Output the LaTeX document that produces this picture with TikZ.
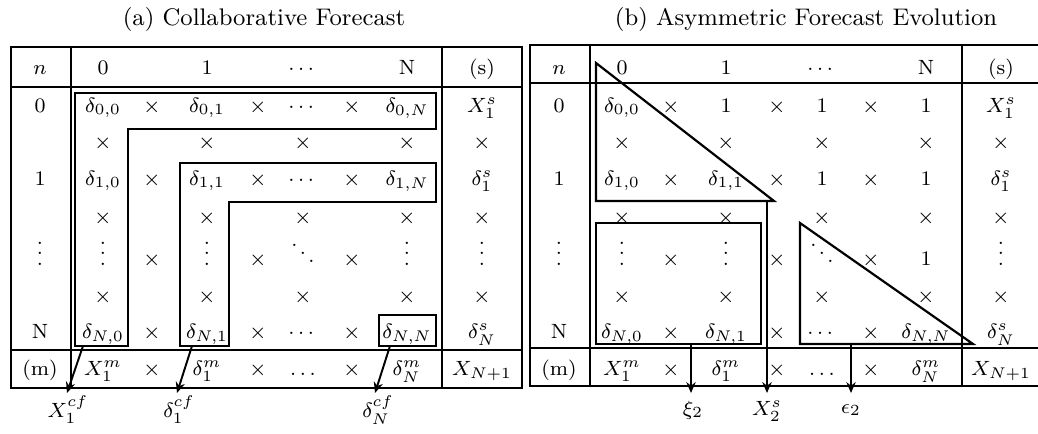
\documentclass[tikz,border=0pt]{standalone}
\usepackage{amsmath,amssymb}
\usepackage{tikz}
\usetikzlibrary{arrows.meta}

% column centres of the left table; the right one is shifted
\def\colxs{40,103,152,207,258,303,352,407,482}
\def\skipcell{-}
\newcommand{\tabrow}[5]{%
  \foreach \e [count=\i from 0] in {#5} {%
    \ifx\e\skipcell\else
      \pgfmathsetmacro\cx{#2+{\colxs}[\i]}%
      \node[cell] (#1-#3-\i) at (\cx,#4) {\e};
    \fi}}

\begin{document}
\begin{tikzpicture}[
  x=0.3875pt,y=-0.3875pt,
  cell/.style={anchor=base,inner sep=0pt,font=\footnotesize},
  title/.style={anchor=base,inner sep=0pt,font=\fontsize{9.3}{11}\selectfont},
  rulel/.style={line width=0.4pt},
  box/.style={line width=0.85pt,line join=miter},
  arr/.style={-{Stealth[length=4.2pt,width=3.6pt]},line width=0.75pt}
]
\useasboundingbox (0,0) rectangle (1038,433);

% titles
\node[title] (ta) at (264,25) {(a) Collaborative Forecast};
\node[title] (tb) at (806,25) {(b) Asymmetric Forecast Evolution};

% frame of table (a)
\draw[rulel] (11,47) rectangle (522,388);
\draw[rulel] (11,87) -- (522,87) (11,350) -- (522,350)
  (71,47) -- (71,388) (442,47) -- (442,388);
% frame of table (b)
\draw[rulel] (1038,45) -- (530,45) -- (530,386) -- (1038,386)
  (530,83) -- (1038,83) (530,348) -- (1038,348)
  (590,45) -- (590,386) (962,45) -- (962,386);

% table (a)
\tabrow{a}{0}{h}{74}{$n$,0,-,1,-,$\cdots$,-,N,(s)}
\tabrow{a}{0}{r0}{112}{0,{$\delta_{0,0}$},$\times$,{$\delta_{0,1}$},$\times$,$\cdots$,$\times$,{$\delta_{0,N}$},$X_1^s$}
\tabrow{a}{0}{x1}{148}{-,$\times$,-,$\times$,-,$\times$,-,$\times$,$\times$}
\tabrow{a}{0}{r1}{185}{1,{$\delta_{1,0}$},$\times$,{$\delta_{1,1}$},$\times$,$\cdots$,$\times$,{$\delta_{1,N}$},$\delta_1^s$}
\tabrow{a}{0}{x2}{223}{-,$\times$,-,$\times$,-,$\times$,-,$\times$,$\times$}
\tabrow{a}{0}{rv}{265}{$\vdots$,$\vdots$,$\times$,$\vdots$,$\times$,$\ddots$,$\times$,$\vdots$,$\vdots$}
\tabrow{a}{0}{x3}{302}{-,$\times$,-,$\times$,-,$\times$,-,$\times$,$\times$}
\tabrow{a}{0}{rN}{338}{N,{$\delta_{N,0}$},$\times$,{$\delta_{N,1}$},$\times$,$\cdots$,$\times$,{$\delta_{N,N}$},$\delta_N^s$}
\tabrow{a}{0}{m}{375}{(m),$X_1^m$,$\times$,$\delta_1^m$,$\times$,$\ldots$,$\times$,$\delta_N^m$,$X_{N+1}$}

% table (b)
\tabrow{b}{519}{h}{74}{$n$,0,-,1,-,$\cdots$,-,N,(s)}
\tabrow{b}{519}{r0}{112}{0,{$\delta_{0,0}$},$\times$,1,$\times$,1,$\times$,1,$X_1^s$}
\tabrow{b}{519}{x1}{148}{-,$\times$,-,$\times$,-,$\times$,-,$\times$,$\times$}
\tabrow{b}{519}{r1}{185}{1,{$\delta_{1,0}$},$\times$,{$\delta_{1,1}$},$\times$,1,$\times$,1,$\delta_1^s$}
\tabrow{b}{519}{x2}{223}{-,$\times$,-,$\times$,-,$\times$,-,$\times$,$\times$}
\tabrow{b}{519}{rv}{265}{$\vdots$,$\vdots$,$\times$,$\vdots$,$\times$,$\ddots$,$\times$,1,$\vdots$}
\tabrow{b}{519}{x3}{302}{-,$\times$,-,$\times$,-,$\times$,-,$\times$,$\times$}
\tabrow{b}{519}{rN}{338}{N,{$\delta_{N,0}$},$\times$,{$\delta_{N,1}$},$\times$,$\cdots$,$\times$,{$\delta_{N,N}$},$\delta_N^s$}
\tabrow{b}{519}{m}{375}{(m),$X_1^m$,$\times$,$\delta_1^m$,$\times$,$\ldots$,$\times$,$\delta_N^m$,$X_{N+1}$}

% groups of table (a)
\draw[box] (75,93) -- (436,93) -- (436,129) -- (128,129) -- (128,346)
  -- (75,346) -- cycle;
\draw[box] (180,163) -- (436,163) -- (436,202) -- (229,202) -- (229,346)
  -- (180,346) -- cycle;
\draw[box] (379,315) rectangle (436,346);

% groups of table (b)
\draw[box] (596,63) -- (596,201) -- (774,201) -- cycle;
\draw[box] (596,223) rectangle (761,344);
\draw[box] (800,223) -- (800,344) -- (973,344) -- cycle;

% outputs of table (a)
\coordinate (a-s1) at (83,346);  \coordinate (a-t1) at (67,393);
\coordinate (a-s2) at (192,346); \coordinate (a-t2) at (177,393);
\coordinate (a-s3) at (390,346); \coordinate (a-t3) at (375,393);
\draw[arr] (a-s1) -- (a-t1);
\draw[arr] (a-s2) -- (a-t2);
\draw[arr] (a-s3) -- (a-t3);
\node[cell] (a-o1) at (68,417) {$X_1^{cf}$};
\node[cell] (a-o2) at (179,417) {$\delta_1^{cf}$};
\node[cell] (a-o3) at (378,417) {$\delta_N^{cf}$};

% outputs of table (b)
\coordinate (b-s1) at (691,344); \coordinate (b-t1) at (691,393);
\coordinate (b-s2) at (767,201); \coordinate (b-t2) at (767,393);
\coordinate (b-s3) at (851,344); \coordinate (b-t3) at (851,393);
\draw[arr] (b-s1) -- (b-t1);
\draw[arr] (b-s2) -- (b-t2);
\draw[arr] (b-s3) -- (b-t3);
\node[cell] (b-o1) at (693,415) {$\xi_2$};
\node[cell] (b-o2) at (767,415) {$X_2^s$};
\node[cell] (b-o3) at (851,413) {$\epsilon_2$};
\end{tikzpicture}
\end{document}
